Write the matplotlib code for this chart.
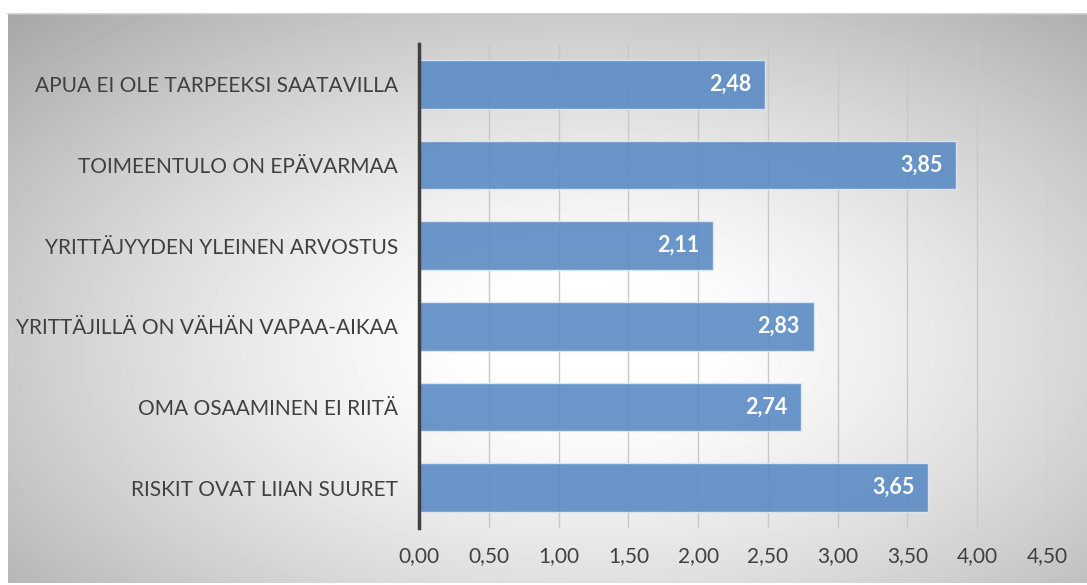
import numpy as np
import matplotlib
matplotlib.use("Agg")
import matplotlib.pyplot as plt

categories = ['APUA EI OLE TARPEEKSI SAATAVILLA',
              'TOIMEENTULO ON EPÄVARMAA',
              'YRITTÄJYYDEN YLEINEN ARVOSTUS',
              'YRITTÄJILLÄ ON VÄHÄN VAPAA-AIKAA',
              'OMA OSAAMINEN EI RIITÄ',
              'RISKIT OVAT LIIAN SUURET']
values = [2.48, 3.85, 2.11, 2.83, 2.74, 3.65]
xticks = [0, 0.5, 1, 1.5, 2, 2.5, 3, 3.5, 4, 4.5]

plt.rcParams['font.family'] = ['Lato', 'DejaVu Sans']

fig = plt.figure(figsize=(10.87, 5.85), dpi=100)

# radial grey gradient behind the chart (excel style)
bg = fig.add_axes([8 / 1087, 2 / 585, 1 - 8 / 1087, (585 - 16) / 585])
h, w = 569, 1079
yy, xx = np.mgrid[0:h, 0:w]
d = np.sqrt(((xx - 580) / 600.0) ** 2 + ((yy - 330) / 340.0) ** 2)
shade = 1.0 - 0.27 * np.clip(d - 0.15, 0, 1.3) ** 1.3
bg.imshow(shade, cmap='gray', vmin=0, vmax=1, aspect='auto', interpolation='bilinear')
bg.axis('off')
# thin grey line on top edge of chart area
fig.add_artist(plt.Line2D([8 / 1087, 1], [1 - 14 / 585, 1 - 14 / 585], color='#c8c8c8', lw=1.2))

ax = fig.add_axes([419 / 1087, 1 - 528 / 585, (1047 - 419) / 1087, (528 - 44) / 585])
ax.patch.set_alpha(0)

y = np.arange(len(categories))
bars = ax.barh(y, values, height=0.6, color='#5b8bc4', alpha=0.9,
               edgecolor='#dfe8f3', linewidth=1, zorder=3)

for yi, v in zip(y, values):
    ax.text(v - 0.1, yi, f'{v:.2f}'.replace('.', ','), ha='right', va='center',
            color='white', fontsize=15.5, fontweight='bold', zorder=4)

ax.set_xlim(0, 4.5)
ax.set_ylim(len(categories) - 0.5, -0.5)
ax.set_xticks(xticks)
ax.set_xticklabels([f'{t:.2f}'.replace('.', ',') for t in xticks], color='#404040', fontsize=15)
ax.set_yticks(y)
ax.set_yticklabels(categories, color='#404040', fontsize=15)
ax.tick_params(length=0)
ax.tick_params(axis='x', pad=13)
ax.tick_params(axis='y', pad=15)

ax.grid(axis='x', color='#c8c8c8', linewidth=1, zorder=0)
ax.set_axisbelow(True)
for s in ['top', 'right', 'bottom']:
    ax.spines[s].set_visible(False)
ax.spines['left'].set_color('#404040')
ax.spines['left'].set_linewidth(2.5)
ax.spines['left'].set_zorder(5)

fig.savefig('out.png', dpi=100)
